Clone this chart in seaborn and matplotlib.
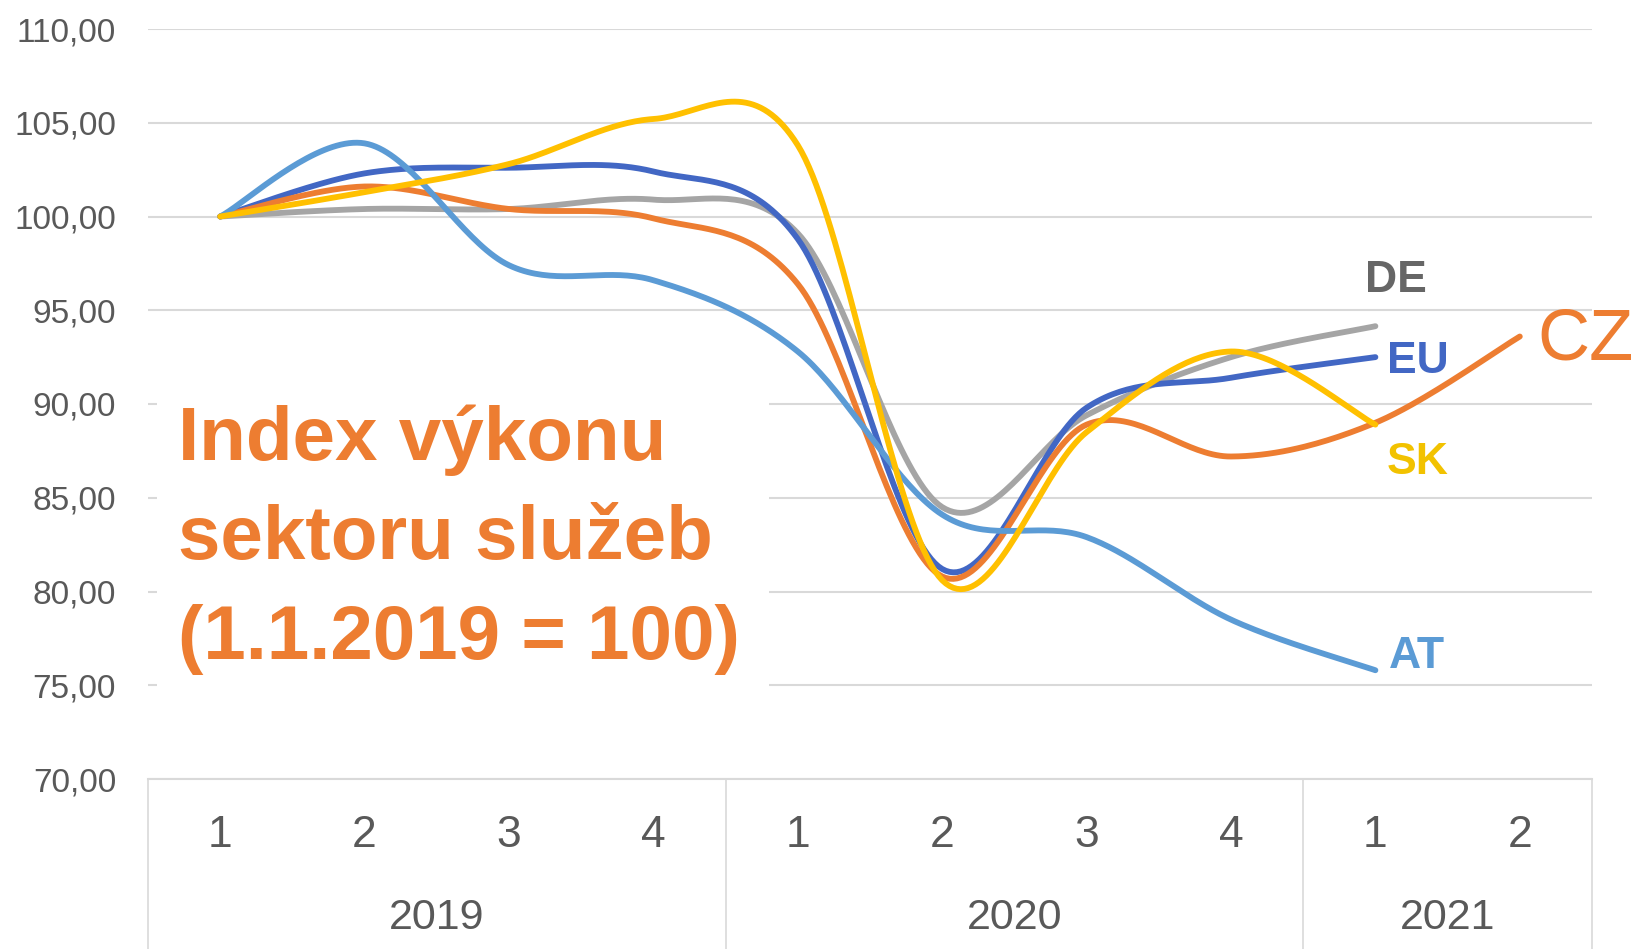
import numpy as np
import pandas as pd
import seaborn as sns
import matplotlib.pyplot as plt
import matplotlib.transforms as mtransforms
from matplotlib.lines import Line2D
from matplotlib.patches import Rectangle

# quarters 2019 Q1 .. 2021 Q2
years = ["2019", "2020", "2021"]
year_spans = [4, 4, 2]
quarters = ["1", "2", "3", "4", "1", "2", "3", "4", "1", "2"]

cz = [100.0, 101.6, 100.4, 99.9, 96.4, 80.8, 88.9, 87.2, 89.0, 93.6]
eu = [100.0, 102.3, 102.6, 102.4, 98.8, 81.2, 89.8, 91.4, 92.5]
de = [100.0, 100.4, 100.4, 100.9, 99.1, 84.5, 89.4, 92.5, 94.15]
sk = [100.0, 101.3, 102.8, 105.2, 103.8, 80.6, 88.5, 92.8, 88.9]
at = [100.0, 103.9, 97.4, 96.6, 92.8, 84.1, 82.9, 78.5, 75.8]

names = ["DE", "EU", "CZ", "AT", "SK"]   # drawing order (last on top)
series = {"CZ": cz, "EU": eu, "DE": de, "SK": sk, "AT": at}
colors = {"CZ": "#ED7D31", "EU": "#4267C4", "DE": "#A5A5A5",
          "SK": "#FFC000", "AT": "#5B9BD5"}
label_colors = {"CZ": "#ED7D31", "EU": "#4267C4", "DE": "#666666",
                "SK": "#F2C200", "AT": "#5B9BD5"}


def excel_smooth(vals, n=40):
    # bezier smoothing like excel's "smoothed line"
    p = np.column_stack([np.arange(len(vals), dtype=float), np.asarray(vals, float)])
    pe = np.vstack([p[0], p, p[-1]])
    t = np.linspace(0, 1, n)[1:, None]
    out = [p[:1]]
    for i in range(len(p) - 1):
        p0, p1, p2, p3 = pe[i], pe[i + 1], pe[i + 2], pe[i + 3]
        c1 = p1 + (p2 - p0) / 6
        c2 = p2 - (p3 - p1) / 6
        out.append((1 - t) ** 3 * p1 + 3 * (1 - t) ** 2 * t * c1
                   + 3 * (1 - t) * t ** 2 * c2 + t ** 3 * p2)
    return np.vstack(out)


frames = []
for name in names:
    pts = excel_smooth(series[name])
    frames.append(pd.DataFrame({"x": pts[:, 0], "y": pts[:, 1], "zeme": name}))
df = pd.concat(frames, ignore_index=True)

sns.set_theme(style="white")
plt.rcParams["font.family"] = ["Liberation Sans", "DejaVu Sans"]

fig = plt.figure(figsize=(16.4, 9.49), dpi=100)
W, H = 1640, 949
ax = fig.add_axes([148 / W, 1 - 779 / H, 1444 / W, 750 / H])

sns.lineplot(data=df, x="x", y="y", hue="zeme", hue_order=names, palette=colors,
             sort=False, estimator=None, linewidth=4.2, legend=False, ax=ax)

ax.set_xlim(-0.5, len(quarters) - 0.5)
ax.set_ylim(70, 110)
ticks = list(range(70, 111, 5))
ax.set_yticks(ticks)
ax.set_yticklabels([f"{v:.2f}".replace(".", ",") for v in ticks])
ax.tick_params(axis="y", length=0, pad=23, labelsize=24, labelcolor="#595959")
ax.set_xticks([])
ax.set_xlabel("")
ax.set_ylabel("")
ax.yaxis.grid(True, color="#D9D9D9", linewidth=1.5)
ax.set_axisbelow(True)
for s in ["top", "right", "left"]:
    ax.spines[s].set_visible(False)
ax.spines["bottom"].set_color("#D9D9D9")
ax.spines["bottom"].set_linewidth(1.5)

# two-level category axis
trans = mtransforms.blended_transform_factory(ax.transData, ax.transAxes)
for i, q in enumerate(quarters):
    ax.text(i, -0.0747, q, transform=trans, ha="center", va="center",
            fontsize=32, color="#595959")
edges = np.concatenate([[0], np.cumsum(year_spans)]) - 0.5
for k, yr in enumerate(years):
    ax.text((edges[k] + edges[k + 1]) / 2, -0.1853, yr, transform=trans,
            ha="center", va="center", fontsize=31, color="#595959")
bottom = -(H - 779) / 750
for e in edges:
    ax.add_line(Line2D([e, e], [0, bottom], transform=trans, color="#D9D9D9",
                       linewidth=1.2, clip_on=False))

# title block on a white patch that hides the grid behind it
ax.add_patch(Rectangle((0.006, 0.115), 0.424, 0.41, transform=ax.transAxes,
                       facecolor="white", edgecolor="none", zorder=1.5))
ax.text(0.0208, 0.500, "Index výkonu\nsektoru služeb\n(1.1.2019 = 100)",
        transform=ax.transAxes, ha="left", va="top", fontsize=55,
        fontweight="bold", color="#ED7D31", linespacing=1.52, zorder=3)

# end labels
offsets = {"DE": (15, 33, "center"), "EU": (8, -3, "left"),
           "SK": (8, -27, "left"), "AT": (10, 10, "left")}
for name, (dx, dy, ha) in offsets.items():
    vals = series[name]
    ax.annotate(name, xy=(len(vals) - 1, vals[-1]), xytext=(dx, dy),
                textcoords="offset points", ha=ha, va="center", fontsize=32,
                fontweight="bold", color=label_colors[name],
                annotation_clip=False)
ax.annotate("CZ", xy=(len(cz) - 1, cz[-1]), xytext=(13, -3),
            textcoords="offset points", ha="left", va="center", fontsize=52,
            color=label_colors["CZ"], annotation_clip=False)

fig.savefig("out.png", dpi=100)
